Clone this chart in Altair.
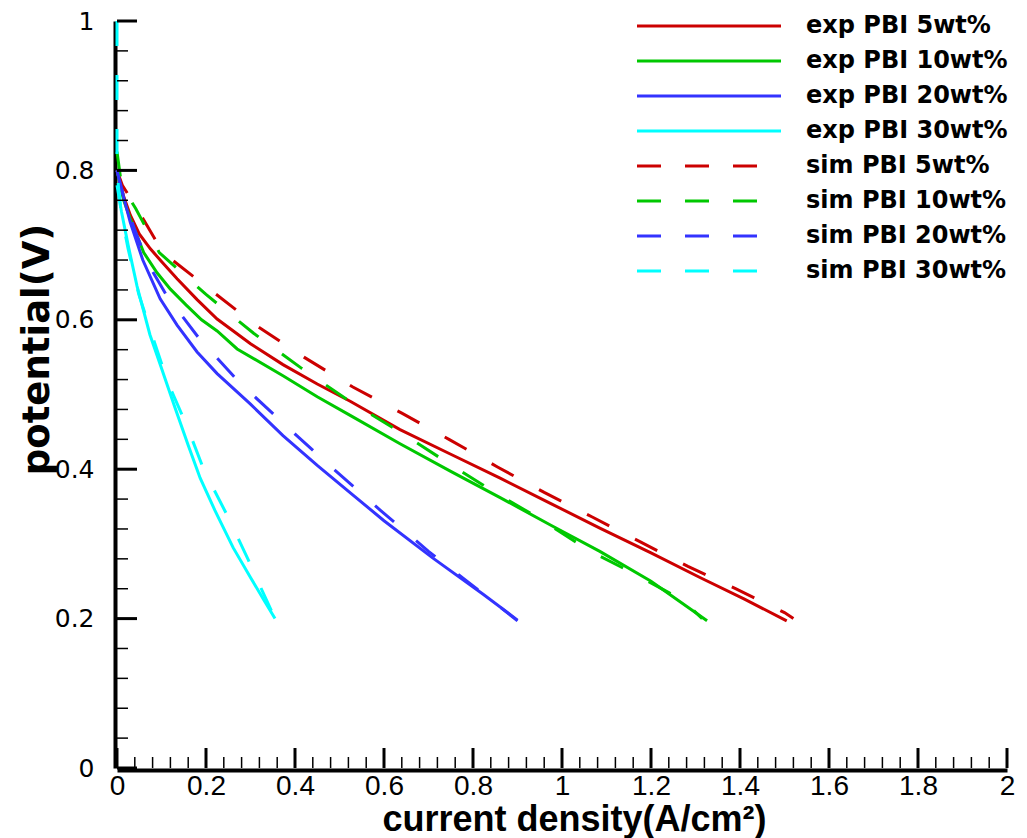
import altair as alt
import pandas as pd

# ---------------- data ----------------
series_names = ["exp PBI 5wt%", "exp PBI 10wt%", "exp PBI 20wt%", "exp PBI 30wt%",
                "sim PBI 5wt%", "sim PBI 10wt%", "sim PBI 20wt%", "sim PBI 30wt%"]
series_colors = ["#cc0000", "#00c800", "#3333ff", "#00ffff",
                 "#cc0000", "#00c800", "#3333ff", "#00ffff"]

exp5_x = [0, 0.015, 0.03, 0.05, 0.075, 0.1, 0.135, 0.18, 0.225, 0.3, 0.373, 0.45, 0.524, 0.636, 0.75, 0.861, 0.975, 1.085, 1.2, 1.31, 1.41, 1.505]
exp5_y = [0.80, 0.765, 0.74, 0.715, 0.695, 0.678, 0.655, 0.627, 0.601, 0.568, 0.54, 0.514, 0.491, 0.453, 0.42, 0.388, 0.354, 0.321, 0.288, 0.255, 0.226, 0.197]

exp10_x = [0, 0.015, 0.03, 0.06, 0.09, 0.12, 0.155, 0.19, 0.225, 0.27, 0.373, 0.45, 0.524, 0.636, 0.75, 0.861, 0.975, 1.085, 1.2, 1.326]
exp10_y = [0.80, 0.76, 0.735, 0.69, 0.663, 0.641, 0.62, 0.6, 0.585, 0.561, 0.525, 0.497, 0.472, 0.434, 0.397, 0.362, 0.325, 0.29, 0.25, 0.197]

exp20_x = [0, 0.01, 0.03, 0.058, 0.097, 0.135, 0.18, 0.225, 0.3, 0.373, 0.45, 0.525, 0.6, 0.71, 0.822, 0.9]
exp20_y = [0.80, 0.775, 0.73, 0.68, 0.628, 0.593, 0.557, 0.528, 0.487, 0.445, 0.405, 0.368, 0.331, 0.281, 0.233, 0.198]

exp30_x = [0, 0.01, 0.025, 0.045, 0.074, 0.1, 0.13, 0.16, 0.187, 0.22, 0.261, 0.3, 0.33, 0.355]
exp30_y = [0.78, 0.745, 0.70, 0.645, 0.58, 0.535, 0.483, 0.432, 0.388, 0.345, 0.295, 0.255, 0.225, 0.2]

sim5_x = [0, 0.012, 0.047, 0.103, 0.21, 0.316, 0.42, 0.53, 0.64, 0.746, 0.855, 0.96, 1.068, 1.175, 1.283, 1.39, 1.5, 1.52]
sim5_y = [0.80, 0.78, 0.747, 0.69, 0.64, 0.591, 0.55, 0.51, 0.475, 0.44, 0.403, 0.369, 0.336, 0.303, 0.27, 0.24, 0.208, 0.2]

sim10_x = [0, 0.008, 0.02, 0.042, 0.095, 0.2, 0.307, 0.415, 0.52, 0.63, 0.737, 0.843, 0.952, 1.058, 1.166, 1.273, 1.315]
sim10_y = [0.825, 0.79, 0.77, 0.749, 0.69, 0.634, 0.582, 0.535, 0.492, 0.452, 0.411, 0.371, 0.333, 0.292, 0.259, 0.224, 0.2]

sim20_x = [0, 0.015, 0.04, 0.07, 0.111, 0.186, 0.277, 0.378, 0.485, 0.592, 0.7, 0.806, 0.9]
sim20_y = [0.80, 0.765, 0.72, 0.675, 0.633, 0.574, 0.515, 0.459, 0.401, 0.345, 0.29, 0.241, 0.197]

sim30_x = [0, 0, 0.003, 0.01, 0.025, 0.049, 0.083, 0.115, 0.157, 0.196, 0.247, 0.294, 0.328, 0.355]
sim30_y = [1.0, 0.82, 0.78, 0.74, 0.695, 0.634, 0.572, 0.515, 0.458, 0.398, 0.339, 0.28, 0.235, 0.2]

x_major_ticks = [0, 0.2, 0.4, 0.6, 0.8, 1.0, 1.2, 1.4, 1.6, 1.8, 2.0]
y_major_ticks = [0, 0.2, 0.4, 0.6, 0.8, 1.0]
x_minor_ticks = [round(i * 0.04, 2) for i in range(51) if i % 5]
y_minor_ticks = [round(i * 0.04, 2) for i in range(26) if i % 5]

# ---------------- tables ----------------
all_x = [exp5_x, exp10_x, exp20_x, exp30_x, sim5_x, sim10_x, sim20_x, sim30_x]
all_y = [exp5_y, exp10_y, exp20_y, exp30_y, sim5_y, sim10_y, sim20_y, sim30_y]
rows = []
for name, xs, ys in zip(series_names, all_x, all_y):
    for i, (a, b) in enumerate(zip(xs, ys)):
        rows.append({"series": name, "kind": name[:3], "current": a, "potential": b, "idx": i})
df = pd.DataFrame(rows)

leg_df = pd.DataFrame({"series": series_names,
                       "kind": [s[:3] for s in series_names],
                       "row": list(range(len(series_names)))})
xmaj_df = pd.DataFrame({"v": x_major_ticks})
xmin_df = pd.DataFrame({"v": x_minor_ticks})
ymaj_df = pd.DataFrame({"v": y_major_ticks})
ymin_df = pd.DataFrame({"v": y_minor_ticks})

W, H = 890, 747
xscale = alt.Scale(domain=[0, 2], nice=False, zero=False)
yscale = alt.Scale(domain=[0, 1], nice=False, zero=False)
color = alt.Color("series:N", scale=alt.Scale(domain=series_names, range=series_colors), legend=None)

x_axis = alt.Axis(values=x_major_ticks, format="~g", title="current density(A/cm²)",
                  ticks=False, grid=False, domainWidth=4, domainColor="black", offset=2,
                  labelFont="Liberation Sans", labelFontSize=28, labelColor="black",
                  labelPadding=2, labelFlush=False, labelOverlap=False,
                  titleFont="Liberation Sans", titleFontSize=36, titleFontWeight="bold",
                  titleColor="black", titleX=457, titleY=60, titleBaseline="alphabetic",
                  titleAlign="center")
y_axis = alt.Axis(values=y_major_ticks, format="~g", title="potential(V)",
                  ticks=False, grid=False, domainWidth=4, domainColor="black", offset=2,
                  labelFont="DejaVu Sans", labelFontSize=25, labelColor="black",
                  labelPadding=21, labelFlush=False, labelOverlap=False,
                  titleFont="DejaVu Sans", titleFontSize=37, titleFontWeight="bold",
                  titleColor="black", titleAngle=270, titleX=-78, titleY=328,
                  titleAlign="center", titleBaseline="middle")

base = alt.Chart(df)
exp_lines = base.transform_filter(alt.datum.kind == "exp").mark_line(strokeWidth=3).encode(
    x=alt.X("current:Q", scale=xscale, axis=x_axis),
    y=alt.Y("potential:Q", scale=yscale, axis=y_axis),
    color=color,
    order=alt.Order("idx:Q"),
)
sim_lines = base.transform_filter(alt.datum.kind == "sim").mark_line(strokeWidth=3, strokeDash=[25, 29]).encode(
    x=alt.X("current:Q"),
    y=alt.Y("potential:Q"),
    color=color,
    order=alt.Order("idx:Q"),
)

xmaj = alt.Chart(xmaj_df).mark_rule(strokeWidth=3, color="black").encode(
    x=alt.X("v:Q"), y=alt.value(H), y2=alt.value(H - 20))
xmin = alt.Chart(xmin_df).mark_rule(strokeWidth=1.5, color="black").encode(
    x=alt.X("v:Q"), y=alt.value(H), y2=alt.value(H - 11))
ymaj = alt.Chart(ymaj_df).mark_rule(strokeWidth=3, color="black").encode(
    y=alt.Y("v:Q"), x=alt.value(0), x2=alt.value(20))
ymin = alt.Chart(ymin_df).mark_rule(strokeWidth=1.5, color="black").encode(
    y=alt.Y("v:Q"), x=alt.value(0), x2=alt.value(11))

# legend rows placed through the y scale, 35 px apart, starting 5 px below the top
leg_base = alt.Chart(leg_df).transform_calculate(ly=f"1 - (5 + 35 * datum.row) / {H}")
leg_y = alt.Y("ly:Q")
leg_exp = leg_base.transform_filter(alt.datum.kind == "exp").mark_rule(strokeWidth=3).encode(
    y=leg_y, x=alt.value(520), x2=alt.value(664), color=color)
leg_sim = leg_base.transform_filter(alt.datum.kind == "sim").mark_rule(strokeWidth=3, strokeDash=[24, 24]).encode(
    y=leg_y, x=alt.value(520), x2=alt.value(664), color=color)
leg_text = leg_base.mark_text(align="left", baseline="middle", font="DejaVu Sans",
                              fontWeight="bold", fontSize=24, color="black").encode(
    y=leg_y, x=alt.value(689), text="series:N")

chart = alt.layer(exp_lines, sim_lines, xmaj, xmin, ymaj, ymin, leg_exp, leg_sim, leg_text).properties(
    width=W, height=H,
    autosize=alt.AutoSizeParams(type="none"),
    padding={"left": 109, "top": 13, "right": 12, "bottom": 70},
).configure_view(strokeWidth=0)

chart.save("out.html", embed_options={"renderer": "svg", "actions": False})
